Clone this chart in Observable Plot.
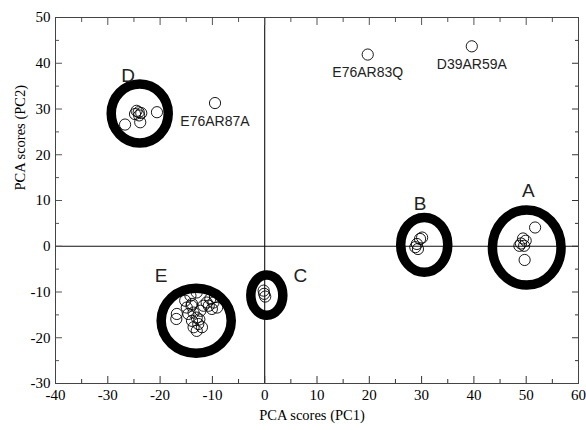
<!DOCTYPE html>
<html><head><meta charset="utf-8">
<script src="https://cdn.jsdelivr.net/npm/d3@7"></script>
<script src="https://cdn.jsdelivr.net/npm/@observablehq/plot@0.6"></script>
<style>body{margin:0;background:#fff} #chart{width:586px;height:430px}</style>
</head><body><div id="chart"></div>
<script>
// ---- data (PCA scores PC1, PC2) ----
const clusterA = [[49.0,0.6],[49.4,1.7],[48.7,0.1],[49.6,0.1],[49.9,1.2],[51.7,4.1],[49.7,-3.0]];
const clusterB = [[29.7,1.6],[29.1,0.5],[28.8,-0.2],[30.1,1.9],[29.3,-0.6]];
const clusterC = [[-0.2,-9.7],[-0.1,-10.4],[0.1,-11.0]];
const clusterD = [[-24.1,29.3],[-24.5,29.6],[-23.6,29.1],[-24.8,28.9],[-24.0,28.6],[-20.6,29.3],[-26.7,26.6],[-23.8,27.1]];
const clusterE = [[-16.8,-14.8],[-16.9,-15.9],[-15.2,-11.9],[-14.2,-10.8],[-13.0,-10.1],[-14.9,-13.4],
  [-13.9,-12.6],[-13.6,-14.5],[-14.6,-14.8],[-13.0,-15.6],[-12.3,-14.1],[-11.7,-13.0],[-12.7,-17.0],
  [-13.6,-17.7],[-13.0,-18.5],[-12.0,-17.7],[-13.9,-16.3],[-10.4,-11.5],[-9.8,-12.3],[-10.7,-13.0],
  [-9.5,-11.1],[-10.1,-13.7],[-9.1,-13.4],[-11.1,-12.3],[-14.0,-13.0],[-12.5,-16.0]];
const outlierNames = ["E76AR87A","E76AR83Q","D39AR59A"];
const outlierX = [-9.5, 19.7, 39.6];
const outlierY = [31.3, 41.9, 43.7];

// cluster rings: centre and half-axes in data units
const ringNames = ["A","B","C","D","E"];
const ringCx = [50.2, 30.6, 0.5, -23.8, -13.0];
const ringCy = [-0.4, 0.2, -10.8, 28.9, -16.4];
const ringRx = [6.56, 4.5, 3.06, 5.45, 6.7];
const ringRy = [8.2, 6.0, 4.4, 6.45, 7.1];
// cluster letter positions
const letterX = [50.4, 29.7, 6.8, -26.1, -19.8];
const letterY = [12.2, 9.3, -6.4, 37.3, -6.4];

const xMajor = [-40,-30,-20,-10,0,10,20,30,40,50,60];
const xMinor = [-35,-25,-15,-5,5,15,25,35,45,55];
const yMajor = [-30,-20,-10,0,10,20,30,40,50];
const yMinor = [-25,-15,-5,5,15,25,35,45];

// ---- build tables ----
const points = [...clusterA, ...clusterB, ...clusterC, ...clusterD, ...clusterE]
  .map(([x, y]) => ({x, y}))
  .concat(outlierX.map((x, i) => ({x, y: outlierY[i]})));
const outliers = outlierNames.map((n, i) => ({name: n, x: outlierX[i], y: outlierY[i]}));
const rings = ringNames.map((n, i) => ({name: n, x: ringCx[i], y: ringCy[i], rx: ringRx[i], ry: ringRy[i]}));
const letters = ringNames.map((n, i) => ({name: n, x: letterX[i], y: letterY[i]}));

const noText = () => "";
const fmt = d => String(d);
const sans = "'Liberation Sans', Arial, sans-serif";

const chart = Plot.plot({
  width: 586, height: 430,
  marginLeft: 55, marginRight: 8, marginTop: 17, marginBottom: 47,
  x: {domain: [-40, 60]},
  y: {domain: [-30, 50]},
  style: {fontFamily: "'Liberation Serif', 'Times New Roman', serif", fontSize: "13px", color: "black", background: "white", overflow: "visible"},
  marks: [
    Plot.ruleX([0], {stroke: "#111", strokeWidth: 1.1}),
    Plot.ruleY([0], {stroke: "#111", strokeWidth: 1.1}),
    Plot.axisX({ticks: xMajor, tickSize: -7, tickPadding: 13, tickFormat: fmt, label: null, stroke: "#333", fontSize: 15}),
    Plot.axisX({ticks: xMinor, tickSize: -4, tickFormat: noText, label: null, stroke: "#333"}),
    Plot.axisX({anchor: "top", ticks: xMajor, tickSize: -7, tickFormat: noText, label: null, stroke: "#555"}),
    Plot.axisX({anchor: "top", ticks: xMinor, tickSize: -4, tickFormat: noText, label: null, stroke: "#555"}),
    Plot.axisY({ticks: yMajor, tickSize: -7, tickPadding: 12, tickFormat: fmt, label: null, stroke: "#555", fontSize: 15}),
    Plot.axisY({ticks: yMinor, tickSize: -4, tickFormat: noText, label: null, stroke: "#555"}),
    Plot.axisY({anchor: "right", ticks: yMajor, tickSize: -7, tickFormat: noText, label: null, stroke: "#333"}),
    Plot.axisY({anchor: "right", ticks: yMinor, tickSize: -4, tickFormat: noText, label: null, stroke: "#333"}),
    Plot.frame({stroke: "#444"}),
    Plot.dot(rings, {
      x: "x", y: "y", r: 30, stroke: "black", strokeWidth: 9.5, fill: "none",
      render(index, {x, y}) {
        const g = d3.create("svg:g").attr("fill", "none").attr("stroke", "black").attr("stroke-width", 9.5);
        for (const i of index) {
          const d = rings[i];
          g.append("ellipse")
            .attr("cx", x(d.x)).attr("cy", y(d.y))
            .attr("rx", Math.abs(x(d.x + d.rx) - x(d.x)))
            .attr("ry", Math.abs(y(d.y + d.ry) - y(d.y)));
        }
        return g.node();
      }
    }),
    Plot.dot(points, {x: "x", y: "y", r: 5.6, stroke: "black", strokeWidth: 0.9, fill: "none"}),
    Plot.text(outliers, {x: "x", y: "y", text: "name", dy: 18, fontSize: 14, fontFamily: sans, fill: "#222"}),
    Plot.text(letters, {x: "x", y: "y", text: "name", fontSize: 19, fontFamily: sans, fill: "#222"}),
    Plot.text(["PCA scores (PC1)"], {frameAnchor: "bottom", dy: 36, dx: -5, fontSize: 14.5, fill: "black"}),
    Plot.text(["PCA scores (PC2)"], {frameAnchor: "left", rotate: -90, dx: -35, dy: -10, fontSize: 14.5, fill: "black"})
  ]
});
document.getElementById("chart").append(chart);
</script>
</body></html>
